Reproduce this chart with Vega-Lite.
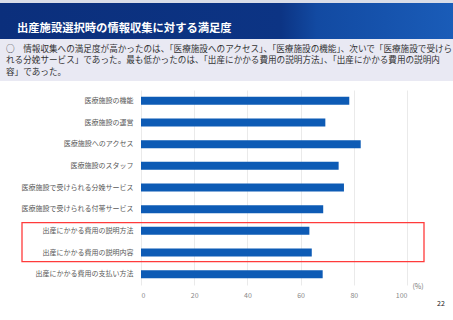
{
  "$schema": "https://vega.github.io/schema/vega-lite/v6.json",
  "width": 266,
  "height": 195,
  "autosize": {"type": "none"},
  "padding": {"left": 141, "top": 90, "right": 46, "bottom": 35},
  "background": "white",
  "config": {"view": {"stroke": null}, "font": "Noto Sans CJK JP"},
  "datasets": {
    "bars": [
      {"item": "医療施設の機能", "pct": 78.3},
      {"item": "医療施設の運営", "pct": 69.3},
      {"item": "医療施設へのアクセス", "pct": 82.6},
      {"item": "医療施設のスタッフ", "pct": 74.3},
      {"item": "医療施設で受けられる分娩サービス", "pct": 76.3},
      {"item": "医療施設で受けられる付帯サービス", "pct": 68.5},
      {"item": "出産にかかる費用の説明方法", "pct": 63.3},
      {"item": "出産にかかる費用の説明内容", "pct": 64.2},
      {"item": "出産にかかる費用の支払い方法", "pct": 68.3}
    ]
  },
  "layer": [
    {
      "data": {"values": [{}]},
      "mark": {"type": "rect", "fill": "#d9dde8"},
      "encoding": {"x": {"value": -141}, "x2": {"value": 312}, "y": {"value": -90}, "y2": {"value": -87}}
    },
    {
      "data": {"values": [{}]},
      "mark": {
        "type": "rect",
        "fill": {
          "gradient": "linear", "x1": 0, "y1": 0, "x2": 1, "y2": 0,
          "stops": [
            {"offset": 0, "color": "#0b2f7c"},
            {"offset": 0.62, "color": "#0c3484"},
            {"offset": 0.7, "color": "#124aa2"},
            {"offset": 1, "color": "#1a5cb8"}
          ]
        }
      },
      "encoding": {"x": {"value": -141}, "x2": {"value": 312}, "y": {"value": -87}, "y2": {"value": -51}}
    },
    {
      "data": {"values": [{}]},
      "mark": {"type": "rect", "fill": "#e9e9f3"},
      "encoding": {"x": {"value": -141}, "x2": {"value": 312}, "y": {"value": -51}, "y2": {"value": -9}}
    },
    {
      "data": {"values": [{}]},
      "mark": {"type": "text", "align": "left", "baseline": "middle", "fontSize": 11.3, "fontWeight": "bold", "color": "white"},
      "encoding": {"x": {"value": -124}, "y": {"value": -61}, "text": {"value": "出産施設選択時の情報収集に対する満足度"}}
    },
    {
      "data": {"values": [{}]},
      "mark": {"type": "text", "align": "left", "baseline": "middle", "fontSize": 8.6, "lineHeight": 11.3, "color": "#333333"},
      "encoding": {
        "x": {"value": -135},
        "y": {"value": -41},
        "text": {"value": ["○　情報収集への満足度が高かったのは、「医療施設へのアクセス」、「医療施設の機能」、次いで「医療施設で受けら", "れる分娩サービス」であった。最も低かったのは、「出産にかかる費用の説明方法」、「出産にかかる費用の説明内", "容」であった。"]}
      }
    },
    {
      "data": {"name": "bars"},
      "mark": {"type": "bar", "color": "#0d5bb5"},
      "encoding": {
        "y": {
          "field": "item", "type": "nominal", "sort": null,
          "scale": {"paddingInner": 0.63, "paddingOuter": 0.315},
          "axis": {"title": null, "domain": false, "ticks": false, "labelFontSize": 7, "labelColor": "#595959", "labelPadding": 8, "labelLimit": 200}
        },
        "x": {
          "field": "pct", "type": "quantitative",
          "scale": {"domain": [0, 100]},
          "axis": {"title": null, "values": [0, 20, 40, 60, 80, 100], "domain": false, "ticks": false, "labelFontSize": 7, "labelColor": "#888888", "labelPadding": 6, "gridColor": "#e4e4e4", "gridWidth": 0.8}
        }
      }
    },
    {
      "data": {"values": [{}]},
      "mark": {"type": "rect", "fill": null, "stroke": "#ff3b3b", "strokeWidth": 1.3},
      "encoding": {"x": {"value": -119}, "x2": {"value": 283}, "y": {"value": 132.7}, "y2": {"value": 171.7}}
    },
    {
      "data": {"values": [{}]},
      "mark": {"type": "text", "align": "center", "baseline": "middle", "fontSize": 7, "color": "#777777"},
      "encoding": {"x": {"value": 277}, "y": {"value": 197}, "text": {"value": "(%)"}}
    },
    {
      "data": {"values": [{}]},
      "mark": {"type": "text", "align": "center", "baseline": "middle", "fontSize": 7, "color": "#222222"},
      "encoding": {"x": {"value": 300}, "y": {"value": 214}, "text": {"value": "22"}}
    }
  ]
}
